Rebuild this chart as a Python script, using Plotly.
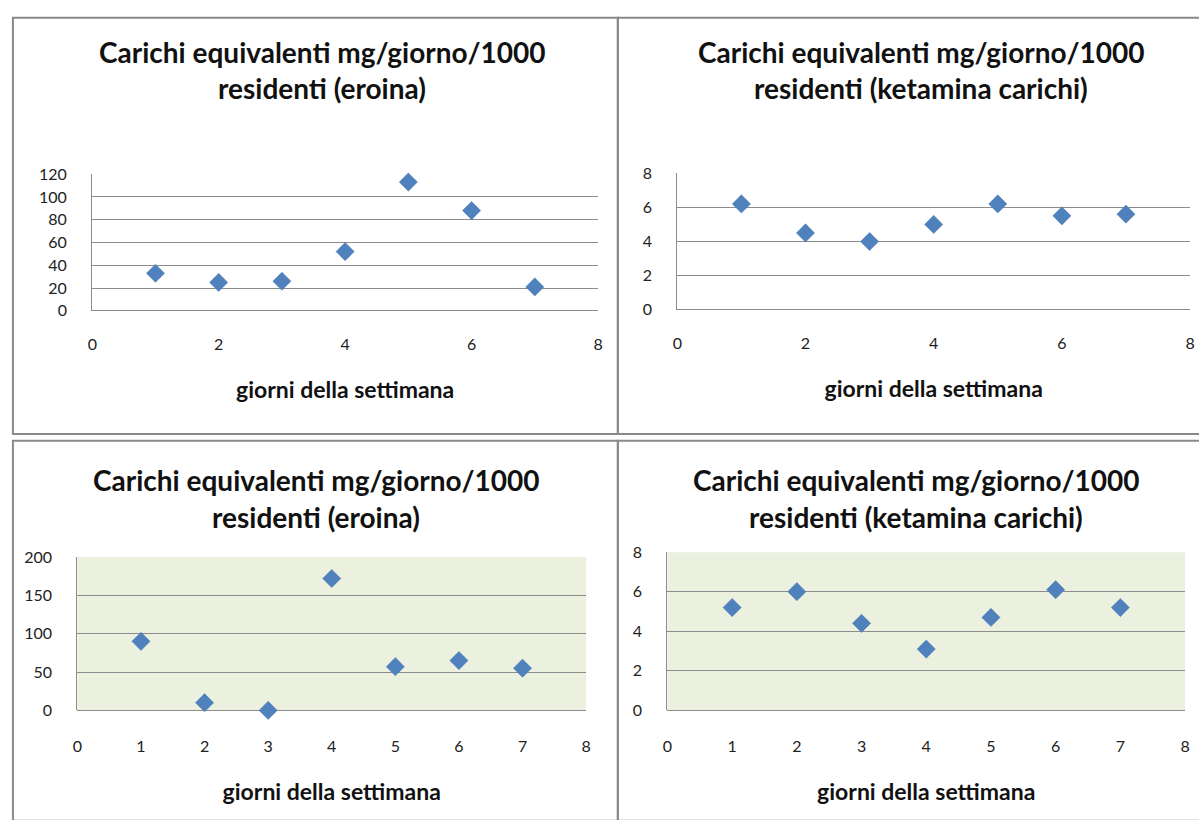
import plotly.graph_objects as go

W, H = 1199, 820

days = [1, 2, 3, 4, 5, 6, 7]
eroina_top = [33, 25, 26, 52, 113, 88, 21]
ketamina_top = [6.2, 4.5, 4.0, 5.0, 6.2, 5.5, 5.6]
eroina_bottom = [90, 10, 0, 172, 57, 65, 55]
ketamina_bottom = [5.2, 6.0, 4.4, 3.1, 4.7, 6.1, 5.2]

title_line1 = "Carichi equivalenti mg/giorno/1000"
title_eroina = "residenti (eroina)"
title_ketamina = "residenti (ketamina carichi)"
x_title = "giorni della settimana"

MARKER = "#4F81BD"
GRID = "#8C8C8C"
GREEN_BG = "#EBF1DE"
FONT = "Lato"


def px(x):
    return x / W


def py(y):
    return 1 - y / H


# plot areas in page pixel coords: (left, right, top, bottom)
panels = [
    dict(area=(88, 598, 168, 308), y=eroina_top, yr=[0, 120], dy=20, dx=2, bg="white",
         t2=title_eroina, tcx=320, t1y=43, t2y=80, xt_std=30, tl_std=22),
    dict(area=(678, 1195, 167, 307), y=ketamina_top, yr=[0, 8], dy=2, dx=2, bg="white",
         t2=title_ketamina, tcx=924, t1y=43, t2y=80, xt_std=30, tl_std=22),
    dict(area=(73, 586, 560, 717), y=eroina_bottom, yr=[0, 200], dy=50, dx=1, bg=GREEN_BG,
         t2=title_eroina, tcx=314, t1y=481, t2y=519, xt_std=29, tl_std=25),
    dict(area=(668, 1190, 555, 717), y=ketamina_bottom, yr=[0, 8], dy=2, dx=1, bg=GREEN_BG,
         t2=title_ketamina, tcx=919, t1y=481, t2y=519, xt_std=29, tl_std=25),
]

fig = go.Figure()
shapes = []
annotations = []

# panel borders
borders = [(8, 8, 618, 434), (618, 8, 1210, 434), (8, 441, 618, 830), (618, 441, 1210, 830)]
for (l, t, r, b) in borders:
    shapes.append(dict(type="rect", xref="paper", yref="paper",
                       x0=px(l), x1=px(r), y0=py(b), y1=py(t),
                       line=dict(color="#8A8A8A", width=2), fillcolor="rgba(0,0,0,0)",
                       layer="below"))

for i, p in enumerate(panels, start=1):
    l, r, t, b = p["area"]
    xa = "xaxis" if i == 1 else f"xaxis{i}"
    ya = "yaxis" if i == 1 else f"yaxis{i}"
    xref = "x" if i == 1 else f"x{i}"
    yref = "y" if i == 1 else f"y{i}"
    fig.add_trace(go.Scatter(
        x=days, y=p["y"], mode="markers", xaxis=xref, yaxis=yref,
        marker=dict(symbol="diamond", size=14, color=MARKER,
                    line=dict(color="#4A7AB3", width=0.5)),
        showlegend=False, cliponaxis=False,
    ))
    fig.layout[xa] = dict(
        domain=[px(l), px(r)], range=[0, 8], dtick=p["dx"], tick0=0,
        anchor=yref, showgrid=False, zeroline=False, showline=False,
        ticks="", ticklabelstandoff=p["tl_std"],
        tickfont=dict(family=FONT, size=16, color="#222"),
        title=dict(text=x_title, standoff=p["xt_std"],
                   font=dict(family=FONT, size=23, color="#111", weight="bold")),
        fixedrange=True,
    )
    fig.layout[ya] = dict(
        domain=[py(b), py(t)], range=p["yr"], dtick=p["dy"], tick0=0,
        anchor=xref, showgrid=True, gridcolor=GRID, gridwidth=1.3,
        zeroline=True, zerolinecolor=GRID, zerolinewidth=1.3,
        showline=True, linecolor=GRID, linewidth=1.3,
        ticks="", ticklabelstandoff=21,
        tickfont=dict(family=FONT, size=16, color="#222"),
        fixedrange=True,
    )
    shapes.append(dict(type="rect", xref="paper", yref="paper",
                       x0=px(l), x1=px(r), y0=py(b), y1=py(t),
                       line=dict(width=0), fillcolor=p["bg"], layer="below"))
    for txt, yy in [(title_line1, p["t1y"]), (p["t2"], p["t2y"])]:
        annotations.append(dict(text=txt, xref="paper", yref="paper",
                                x=px(p["tcx"]), y=py(yy), xanchor="center", yanchor="middle",
                                showarrow=False,
                                font=dict(family=FONT, size=28, color="#111", weight="bold")))

fig.update_layout(
    width=W, height=H, margin=dict(l=0, r=0, t=0, b=0),
    paper_bgcolor="white", plot_bgcolor="rgba(0,0,0,0)",
    shapes=shapes, annotations=annotations,
)

fig.write_html(
    "out.html",
    config={"displayModeBar": False},
    post_script="document.body.style.margin='0';document.body.style.overflow='hidden';",
)
